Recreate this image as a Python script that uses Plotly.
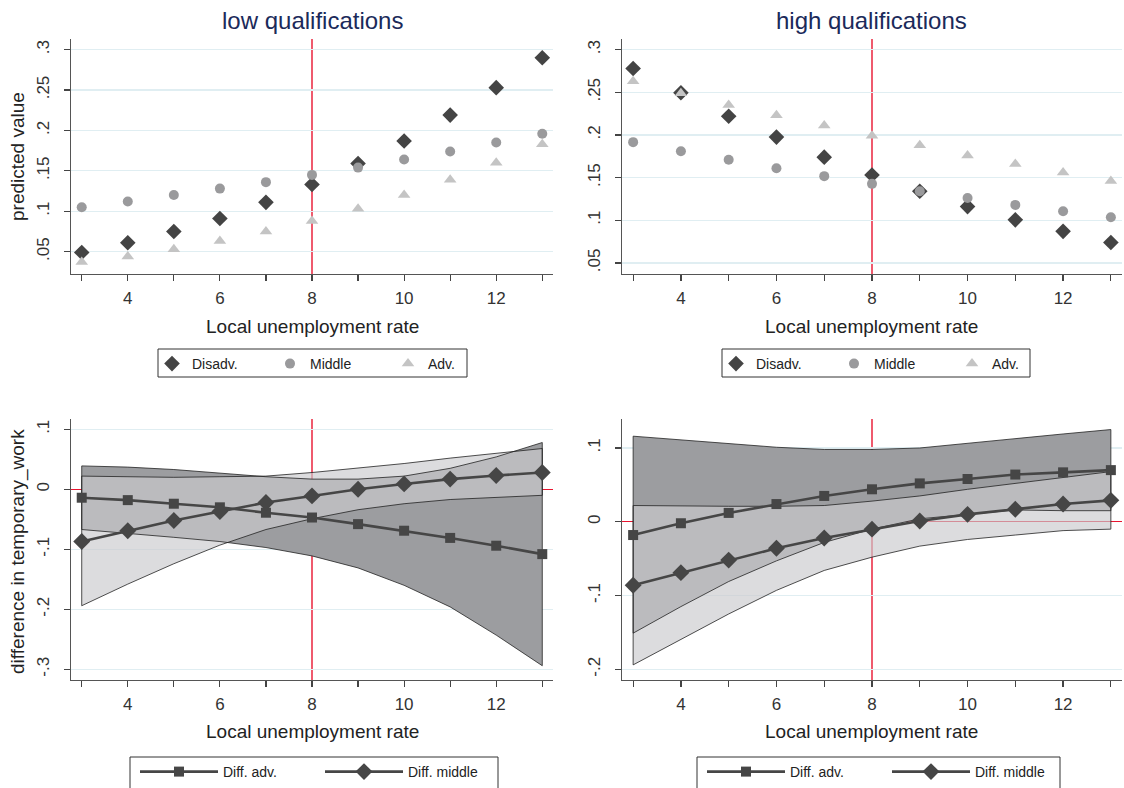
import plotly.graph_objects as go

W, H = 1124, 788

# ---------------- data ----------------
rate = [3, 4, 5, 6, 7, 8, 9, 10, 11, 12, 13]
x_tick_labels = ["", "4", "", "6", "", "8", "", "10", "", "12", ""]
ref_rate = 8

# top-left: low qualifications, predicted values
low_disadv = [0.049, 0.061, 0.075, 0.091, 0.111, 0.133, 0.159, 0.187, 0.219, 0.253, 0.290]
low_middle = [0.105, 0.112, 0.120, 0.128, 0.136, 0.145, 0.154, 0.164, 0.174, 0.185, 0.196]
low_adv = [0.037, 0.044, 0.053, 0.063, 0.075, 0.088, 0.103, 0.120, 0.139, 0.160, 0.183]

# top-right: high qualifications, predicted values
high_disadv = [0.278, 0.2495, 0.222, 0.1975, 0.174, 0.153, 0.134, 0.116, 0.1005, 0.087, 0.074]
high_middle = [0.1916, 0.181, 0.171, 0.161, 0.1517, 0.1427, 0.134, 0.126, 0.118, 0.1106, 0.1036]
high_adv = [0.263, 0.249, 0.235, 0.223, 0.211, 0.199, 0.188, 0.176, 0.166, 0.156, 0.146]

# bottom-left: differences (low qualifications)
bl_diff_adv = [-0.014, -0.018, -0.024, -0.030, -0.039, -0.047, -0.058, -0.069, -0.081, -0.094, -0.108]
bl_adv_hi = [0.039, 0.037, 0.033, 0.027, 0.021, 0.017, 0.017, 0.022, 0.035, 0.054, 0.078]
bl_adv_lo = [-0.067, -0.073, -0.080, -0.087, -0.097, -0.111, -0.131, -0.160, -0.196, -0.243, -0.294]
bl_diff_mid = [-0.087, -0.069, -0.052, -0.037, -0.022, -0.011, 0.000, 0.009, 0.017, 0.023, 0.028]
bl_mid_hi = [0.022, 0.021, 0.020, 0.021, 0.022, 0.028, 0.035, 0.043, 0.052, 0.060, 0.068]
bl_mid_lo = [-0.194, -0.158, -0.124, -0.093, -0.067, -0.049, -0.034, -0.024, -0.017, -0.013, -0.010]

# bottom-right: differences (high qualifications)
br_diff_adv = [-0.018, -0.002, 0.012, 0.024, 0.035, 0.044, 0.052, 0.058, 0.064, 0.067, 0.070]
br_adv_hi = [0.116, 0.111, 0.105, 0.101, 0.098, 0.098, 0.100, 0.106, 0.112, 0.119, 0.125]
br_adv_lo = [-0.151, -0.115, -0.081, -0.053, -0.028, -0.010, 0.004, 0.010, 0.016, 0.015, 0.015]
br_diff_mid = [-0.086, -0.069, -0.052, -0.036, -0.022, -0.010, 0.001, 0.010, 0.017, 0.024, 0.029]
br_mid_hi = [0.022, 0.021, 0.021, 0.021, 0.022, 0.028, 0.035, 0.044, 0.052, 0.060, 0.068]
br_mid_lo = [-0.194, -0.159, -0.125, -0.093, -0.066, -0.048, -0.033, -0.024, -0.018, -0.012, -0.010]

top_y_vals = [0.05, 0.10, 0.15, 0.20, 0.25, 0.30]
top_y_text = [".05", ".1", ".15", ".2", ".25", ".3"]
bl_y_vals = [-0.3, -0.2, -0.1, 0.0, 0.1]
bl_y_text = ["-.3", "-.2", "-.1", "0", ".1"]
br_y_vals = [-0.2, -0.1, 0.0, 0.1]
br_y_text = ["-.2", "-.1", "0", ".1"]

# ---------------- styles ----------------
FONT = "Liberation Sans, Arial, sans-serif"
DARK = "#444444"
MID = "#9a9a9c"
LIGHT = "#c4c4c4"
LINE = "#464646"
BAND_DARK = "#9c9da0"
BAND_LIGHT = "rgba(202,203,206,0.667)"
RED = "#e8142f"
GRID = "#e0eef2"
TITLE_COL = "#1b2a5a"

fig = go.Figure()


def sc(x, y, xa, ya, **kw):
    return go.Scatter(x=x, y=y, xaxis=xa, yaxis=ya, hoverinfo="skip", **kw)


# top panels
for (d, m, a, xa, ya, lg) in [
    (low_disadv, low_middle, low_adv, "x", "y", "legend"),
    (high_disadv, high_middle, high_adv, "x2", "y2", "legend2"),
]:
    fig.add_trace(sc(rate, d, xa, ya, mode="markers", name="Disadv.", legend=lg,
                     marker=dict(symbol="diamond", size=12, color=DARK)))
    fig.add_trace(sc(rate, m, xa, ya, mode="markers", name="Middle", legend=lg,
                     marker=dict(symbol="circle", size=10, color=MID)))
    fig.add_trace(sc(rate, a, xa, ya, mode="markers", name="Adv.", legend=lg,
                     marker=dict(symbol="triangle-up", size=11, color=LIGHT)))

# bottom panels
for (da, ahi, alo, dm, mhi, mlo, xa, ya, lg) in [
    (bl_diff_adv, bl_adv_hi, bl_adv_lo, bl_diff_mid, bl_mid_hi, bl_mid_lo, "x3", "y3", "legend3"),
    (br_diff_adv, br_adv_hi, br_adv_lo, br_diff_mid, br_mid_hi, br_mid_lo, "x4", "y4", "legend4"),
]:
    poly_x = rate + rate[::-1]
    fig.add_trace(sc(poly_x, ahi + alo[::-1], xa, ya, mode="lines", fill="toself",
                     fillcolor=BAND_DARK, line=dict(width=0), showlegend=False))
    fig.add_trace(sc(poly_x, mhi + mlo[::-1], xa, ya, mode="lines", fill="toself",
                     fillcolor=BAND_LIGHT, line=dict(width=0), showlegend=False))
    fig.add_trace(sc(poly_x + rate[:1], ahi + alo[::-1] + ahi[:1], xa, ya, mode="lines",
                     line=dict(width=0.8, color="#222222"), showlegend=False))
    fig.add_trace(sc(poly_x + rate[:1], mhi + mlo[::-1] + mhi[:1], xa, ya, mode="lines",
                     line=dict(width=0.8, color="#222222"), showlegend=False))
    fig.add_trace(sc(rate, da, xa, ya, mode="lines+markers", name="Diff. adv.", legend=lg,
                     line=dict(color=LINE, width=2.6),
                     marker=dict(symbol="square", size=10, color=LINE)))
    fig.add_trace(sc(rate, dm, xa, ya, mode="lines+markers", name="Diff. middle", legend=lg,
                     line=dict(color=LINE, width=2.6),
                     marker=dict(symbol="diamond", size=13, color=LINE)))

# ---------------- axes ----------------
XR = [2.767, 13.233]
xl = [71 / W, 553 / W]
xr = [622 / W, 1122 / W]
yt = [1 - 274 / H, 1 - 39 / H]
yb = [1 - 680 / H, 1 - 419 / H]


def xaxis(dom, anchor):
    return dict(domain=dom, anchor=anchor, range=XR, tickvals=rate, ticktext=x_tick_labels,
                ticks="outside", ticklen=6, tickwidth=1.2, tickcolor="#444",
                showline=True, linecolor="#555", linewidth=1.3, showgrid=False,
                zeroline=False, tickfont=dict(family=FONT, size=17, color="#333"),
                ticklabelstandoff=2, fixedrange=True)


def yaxis(dom, anchor, rng, vals, text, zero=False):
    return dict(domain=dom, anchor=anchor, range=rng, tickvals=vals, ticktext=text,
                tickangle=-90, ticks="outside", ticklen=6, tickwidth=1.2, tickcolor="#444",
                showline=True, linecolor="#555", linewidth=1.3, showgrid=True,
                gridcolor=GRID, gridwidth=1.2,
                zeroline=zero, zerolinecolor=RED, zerolinewidth=1.4,
                tickfont=dict(family=FONT, size=17, color="#333"),
                ticklabelstandoff=8, fixedrange=True)


fig.update_layout(
    xaxis=xaxis(xl, "y"), yaxis=yaxis(yt, "x", [0.0223, 0.3132], top_y_vals, top_y_text),
    xaxis2=xaxis(xr, "y2"), yaxis2=yaxis(yt, "x2", [0.037, 0.3125], top_y_vals, top_y_text),
    xaxis3=xaxis(xl, "y3"),
    yaxis3=yaxis(yb, "x3", [-0.3178, 0.1172], bl_y_vals, bl_y_text, zero=True),
    xaxis4=xaxis(xr, "y4"),
    yaxis4=yaxis(yb, "x4", [-0.2145, 0.1393], br_y_vals, br_y_text, zero=True),
)

# vertical reference line at the reference unemployment rate
shapes = []
for xa, ya in [("x", "y"), ("x2", "y2"), ("x3", "y3"), ("x4", "y4")]:
    shapes.append(dict(type="line", xref=xa, yref=ya + " domain", x0=ref_rate, x1=ref_rate,
                       y0=0, y1=1, line=dict(color=RED, width=1.4), layer="below"))

# legend frames (pixel boxes)
for (bx0, by0, bx1, by1) in [(158, 349, 467, 377), (722, 349, 1030, 377),
                             (130, 757, 498, 800), (697, 757, 1060, 800)]:
    shapes.append(dict(type="rect", xref="paper", yref="paper",
                       x0=bx0 / W, x1=bx1 / W, y0=1 - by1 / H, y1=1 - by0 / H,
                       line=dict(color="#333", width=1), fillcolor="rgba(0,0,0,0)",
                       layer="above"))

# text
ann = []


def add_text(text, xpx, ypx, size, color="#222", angle=0):
    ann.append(dict(text=text, x=xpx / W, y=1 - ypx / H, xref="paper", yref="paper",
                    showarrow=False, xanchor="center", yanchor="middle", textangle=angle,
                    font=dict(family=FONT, size=size, color=color)))


add_text("low qualifications", (xl[0] + xl[1]) / 2 * W, 21, 24, TITLE_COL)
add_text("high qualifications", (xr[0] + xr[1]) / 2 * W, 21, 24, TITLE_COL)
add_text("Local unemployment rate", (xl[0] + xl[1]) / 2 * W, 326, 19)
add_text("Local unemployment rate", (xr[0] + xr[1]) / 2 * W, 326, 19)
add_text("Local unemployment rate", (xl[0] + xl[1]) / 2 * W, 731, 19)
add_text("Local unemployment rate", (xr[0] + xr[1]) / 2 * W, 731, 19)
add_text("predicted value", 18, 157, 19, angle=-90)
add_text("difference in temporary_work", 18, 552, 19, angle=-90)


def legend(xpx, ypx, ew, iw=30):
    return dict(x=xpx / W, y=1 - ypx / H, xref="paper", yref="paper", xanchor="left",
                yanchor="top", orientation="h", borderwidth=0,
                bgcolor="rgba(0,0,0,0)", font=dict(family=FONT, size=14, color="#222"),
                entrywidth=ew, entrywidthmode="pixels", itemwidth=iw, itemclick=False,
                itemdoubleclick=False, tracegroupgap=0)


fig.update_layout(
    width=W, height=H, margin=dict(l=0, r=0, t=0, b=0),
    paper_bgcolor="white", plot_bgcolor="white",
    shapes=shapes, annotations=ann,
    legend=legend(152, 348, 73), legend2=legend(716, 348, 73),
    legend3=legend(135, 756, 92, 78), legend4=legend(702, 756, 92, 78),
    font=dict(family=FONT),
)

fig.write_html(
    "out.html",
    config={"displayModeBar": False, "staticPlot": True},
    post_script=(
        "document.documentElement.style.margin='0';"
        "document.body.style.margin='0';"
        "document.body.style.padding='0';"
        "document.body.style.overflow='hidden';"
        "document.documentElement.style.overflow='hidden';"
    ),
)
